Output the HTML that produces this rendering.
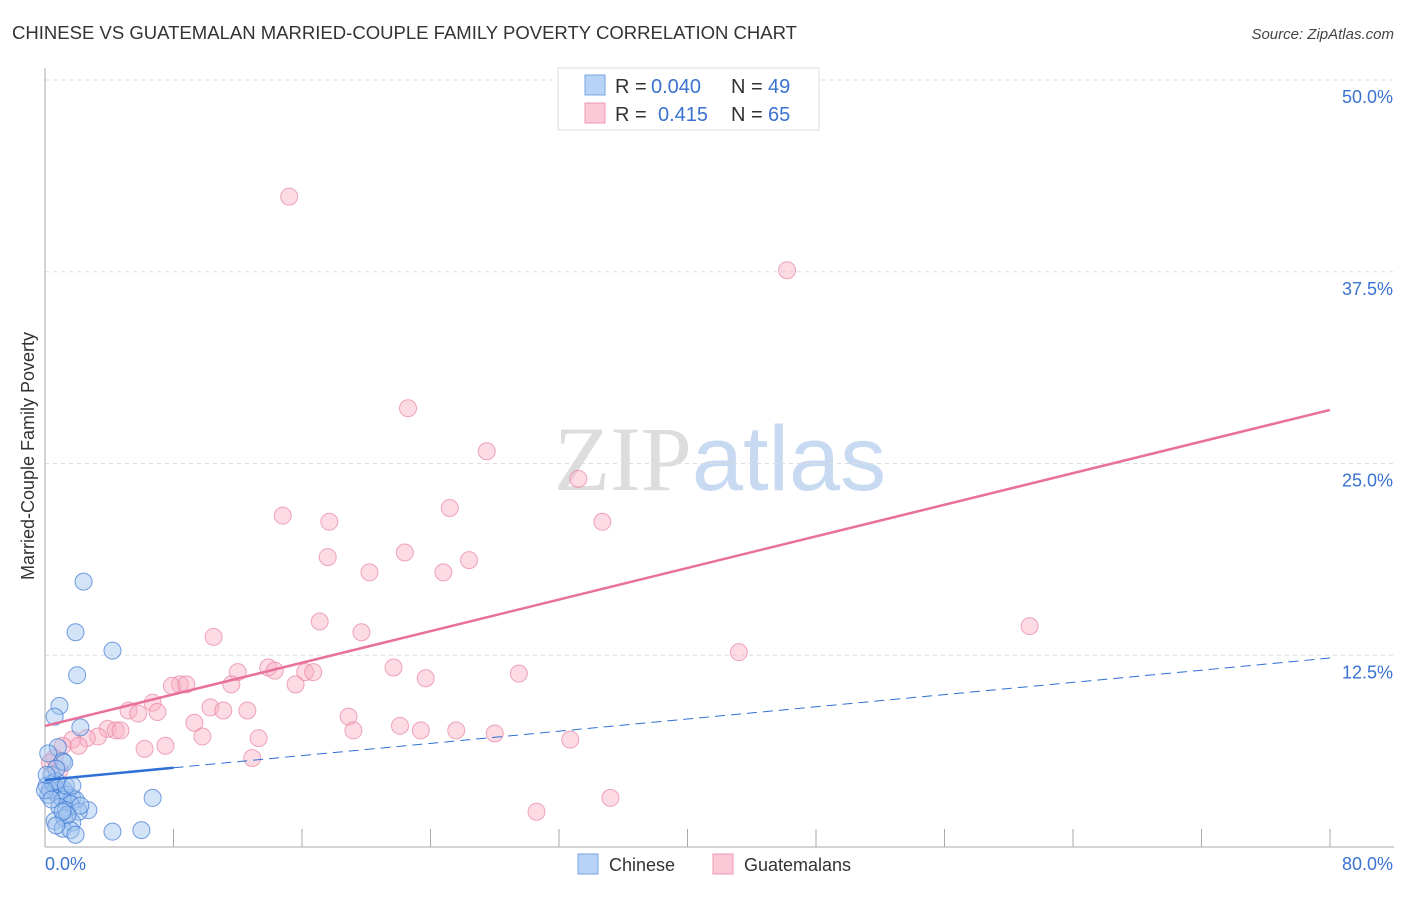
<!DOCTYPE html>
<html><head><meta charset="utf-8"><style>
body{margin:0;background:#fff;font-family:"Liberation Sans",sans-serif;}
svg text{font-family:"Liberation Sans",sans-serif;}
</style></head><body>
<svg id="chart" width="1406" height="892" viewBox="0 0 1406 892" xmlns="http://www.w3.org/2000/svg">
<text x="12" y="39" font-size="18" fill="#333" textLength="785" lengthAdjust="spacingAndGlyphs">CHINESE VS GUATEMALAN MARRIED-COUPLE FAMILY POVERTY CORRELATION CHART</text>
<text x="1394" y="39" font-size="15" fill="#444" font-style="italic" text-anchor="end">Source: ZipAtlas.com</text>
<text x="720" y="490" font-size="92" text-anchor="middle"><tspan fill="#ddd" font-family="Liberation Serif">ZIP</tspan><tspan fill="#c8daf2">atlas</tspan></text>
<g id="grid"></g>
<g id="axes"></g>
<text transform="translate(34,456) rotate(-90)" font-size="18" fill="#333" text-anchor="middle">Married-Couple Family Poverty</text>
<g id="marks"></g>
<g>
<rect x="558" y="68" width="261" height="62" fill="#fff" stroke="#ddd"/>
<rect x="585" y="75" width="20" height="20" fill="#b8d3f6" stroke="#7ba6e0"/>
<rect x="585" y="103" width="20" height="20" fill="#fbc8d7" stroke="#ec9ab3"/>
<text x="615" y="93" font-size="20" fill="#333">R =</text>
<text x="651" y="93" font-size="20" fill="#3a72d0">0.040</text>
<text x="731" y="93" font-size="20" fill="#333">N =</text>
<text x="768" y="93" font-size="20" fill="#3a72d0">49</text>
<text x="615" y="121" font-size="20" fill="#333">R =</text>
<text x="658" y="121" font-size="20" fill="#3a72d0">0.415</text>
<text x="731" y="121" font-size="20" fill="#333">N =</text>
<text x="768" y="121" font-size="20" fill="#3a72d0">65</text>
</g>
<g>
<rect x="578" y="854" width="20" height="20" fill="#b8d3f6" stroke="#7ba6e0"/>
<text x="609" y="871" font-size="18" fill="#333">Chinese</text>
<rect x="713" y="854" width="20" height="20" fill="#fbc8d7" stroke="#ec9ab3"/>
<text x="744" y="871" font-size="18" fill="#333">Guatemalans</text>
</g>
</svg>
<script>
const chineseX=[2.4,1.9,4.2,2.0,0.9,0.6,2.2,0.8,0.2,1.1,1.2,0.4,0.1,0.6,0.9,1.2,0.2,0.8,1.4,1.7,1.9,1.1,2.7,1.6,0.9,1.3,2.1,6.7,0.6,1.2,1.7,1.1,1.6,1.9,4.2,6.0,0.3,0.5,0.7,0.0,1.3,2.2,0.7,0.1,0.4,1.4,1.1,0.7,1.7];
const chineseY=[17.3,14.0,12.8,11.2,9.2,8.5,7.8,6.5,6.1,5.6,5.5,4.7,4.0,3.9,3.7,3.7,3.4,3.4,3.4,3.2,3.1,3.1,2.4,2.8,2.6,2.4,2.3,3.2,1.7,1.9,1.6,1.2,1.1,0.8,1.0,1.1,3.7,4.2,4.3,3.7,4.0,2.7,5.1,4.7,3.1,2.1,2.3,1.4,4.0];
const guatX=[15.2,46.2,22.6,27.5,33.2,14.8,25.2,17.7,34.7,22.4,17.6,26.4,20.2,24.8,61.3,17.1,19.7,10.5,43.2,12.0,13.9,14.3,16.2,16.7,21.7,15.6,23.7,29.5,8.4,7.9,8.8,11.6,6.7,5.2,5.8,7.0,10.3,11.1,12.6,9.3,18.9,22.1,3.9,4.4,4.7,3.3,23.4,25.6,28.0,9.8,13.3,2.6,1.7,1.1,2.1,6.2,7.5,32.7,19.2,12.9,0.6,30.6,35.2,0.3,0.9];
const guatY=[42.4,37.6,28.6,25.8,24.0,21.6,22.1,21.2,21.2,19.2,18.9,18.7,17.9,17.9,14.4,14.7,14.0,13.7,12.7,11.4,11.7,11.5,11.4,11.4,11.7,10.6,11.0,11.3,10.6,10.5,10.6,10.6,9.4,8.9,8.7,8.8,9.1,8.9,8.9,8.1,8.5,7.9,7.7,7.6,7.6,7.2,7.6,7.6,7.4,7.2,7.1,7.1,7.0,6.6,6.6,6.4,6.6,7.0,7.6,5.8,5.8,2.3,3.2,5.5,5.0];
const yTicks=[12.5,25,37.5,50];
const yTickLabels=["12.5%","25.0%","37.5%","50.0%"];
const xTicks=[8,16,24,32,40,48,56,64,72,80];
const chineseTrend=[4.37,12.32];
const guatTrend=[7.89,28.49];
const NS="http://www.w3.org/2000/svg";
const X=v=>45+v*(1285/80), Y=v=>847-v*15.34;
function mk(tag,attrs,parent){const e=document.createElementNS(NS,tag);for(const k in attrs)e.setAttribute(k,attrs[k]);parent.appendChild(e);return e;}
const grid=document.getElementById('grid'),axes=document.getElementById('axes'),marks=document.getElementById('marks');
yTicks.forEach((t,i)=>{
 const l=mk('line',{x1:45,x2:1394,y1:Y(t),y2:Y(t),stroke:'#ddd','stroke-dasharray':'4,4'},grid);
 
 
 const tx=mk('text',{x:1393,y:Y(t)+23,'font-size':18,fill:'#3a72d0','text-anchor':'end'},axes);
 tx.textContent=yTickLabels[i];
 
 
});
mk('line',{x1:45,x2:45,y1:68,y2:847,stroke:'#aaa'},axes);
mk('line',{x1:45,x2:1394,y1:847,y2:847,stroke:'#aaa'},axes);
xTicks.forEach(t=>{const l=mk('line',{x1:X(t),x2:X(t),y1:829,y2:847,stroke:'#aaa'},axes);
 
 });
const x0=mk('text',{x:45,y:870,'font-size':18,fill:'#3a72d0'},axes);x0.textContent='0.0%';


const x1=mk('text',{x:1393,y:870,'font-size':18,fill:'#3a72d0','text-anchor':'end'},axes);x1.textContent='80.0%';


guatX.forEach((v,i)=>{const c=mk('circle',{cx:X(v),cy:Y(guatY[i]),r:8.5,fill:'rgba(248,175,198,0.45)',stroke:'rgba(232,130,160,0.7)','stroke-width':1},marks);
 
 });
chineseX.forEach((v,i)=>{const c=mk('circle',{cx:X(v),cy:Y(chineseY[i]),r:8.5,fill:'rgba(160,195,240,0.45)',stroke:'rgba(60,120,210,0.7)','stroke-width':1},marks);
 
 });
const gt=mk('line',{x1:X(0),y1:Y(guatTrend[0]),x2:X(80),y2:Y(guatTrend[1]),stroke:'#e8709a','stroke-width':2.5},marks);


const cy=v=>chineseTrend[0]+(chineseTrend[1]-chineseTrend[0])*v/80;
const cs=mk('line',{x1:X(0),y1:Y(cy(0)),x2:X(8),y2:Y(cy(8)),stroke:'#2f6fd6','stroke-width':2.5},marks);


const cd=mk('line',{x1:X(8),y1:Y(cy(8)),x2:X(80),y2:Y(cy(80)),stroke:'#2f6fd6','stroke-width':1,'stroke-dasharray':'10,6'},marks);


</script>
</body></html>
